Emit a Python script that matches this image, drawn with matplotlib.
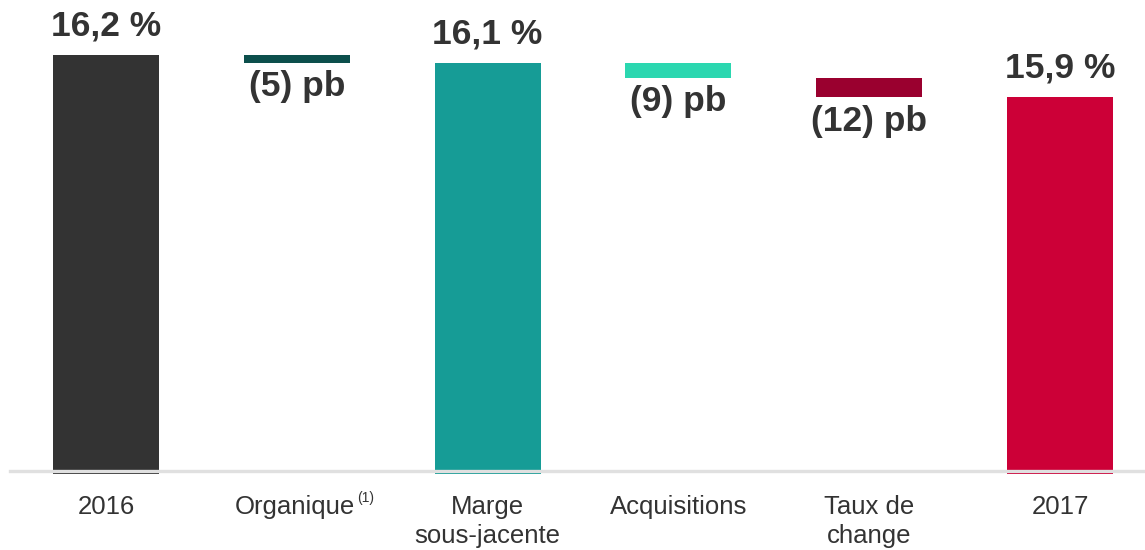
import matplotlib
matplotlib.use("Agg")
import matplotlib.pyplot as plt
import matplotlib.transforms as mtransforms

plt.rcParams['font.family'] = ['Liberation Sans', 'DejaVu Sans']

# ---- data ----
categories = ["2016", "Organique", "Marge\nsous-jacente", "Acquisitions", "Taux de\nchange", "2017"]
kinds = ["total", "delta", "total", "delta", "delta", "total"]
start_value = 16.2
deltas_pb = [-5, -9, -12]          # basis points
value_labels = ["16,2 %", "(5) pb", "16,1 %", "(9) pb", "(12) pb", "15,9 %"]
colors = ["#333333", "#0c4f4c", "#169c96", "#2bd7b0", "#9a002f", "#cc0037"]
footnote = "(1)"

# ---- compute waterfall geometry ----
base = 13.67
bottoms, heights = [], []
running = start_value
di = 0
for k in kinds:
    if k == "total":
        bottoms.append(base - 0.015)
        heights.append(running - base + 0.015)
    else:
        d = deltas_pb[di] / 100.0
        di += 1
        bottoms.append(running + d)
        heights.append(-d)
        running = running + d

W, H = 1145, 550
fig = plt.figure(figsize=(W / 100, H / 100), dpi=100)
ax = fig.add_axes([10 / W, 1 - 472 / H, 1 - 10 / W, 472 / H])
step = 190.8
ax.set_xlim(-96 / step, -96 / step + 1135 / step)
ax.set_ylim(base, base + 472 / 165.0)
ax.axis("off")

xs = list(range(len(categories)))
bars = ax.bar(xs, heights, bottom=bottoms, width=106 / step, color=colors,
              zorder=2, clip_on=False)

ax.axhline(base + 0.008, color="#e0e0e0", lw=2.4, zorder=3, clip_on=False)

txtc = "#333333"
for i, (b, h, k, lab) in enumerate(zip(bottoms, heights, kinds, value_labels)):
    if k == "total":
        ax.annotate(lab, (i, b + h), xytext=(0, 9), textcoords="offset points",
                    ha="center", va="bottom", fontsize=25.5, fontweight="bold",
                    color=txtc)
    else:
        ax.annotate(lab, (i, b), xytext=(0, -5.5), textcoords="offset points",
                    ha="center", va="top", fontsize=25.5, fontweight="bold",
                    color=txtc)

trans = mtransforms.blended_transform_factory(ax.transData, fig.transFigure)
for i, c in enumerate(categories):
    xoff = -0.01 if i == 1 else 0
    ax.text(i + xoff, 1 - 495 / H, c, transform=trans, ha="center", va="top",
            fontsize=18.5, color=txtc, linespacing=1.25)
ax.text(1 + 60 / step, 1 - 491 / H, footnote, transform=trans, ha="left", va="top",
        fontsize=10, color=txtc)

fig.savefig("out.png", dpi=100)
